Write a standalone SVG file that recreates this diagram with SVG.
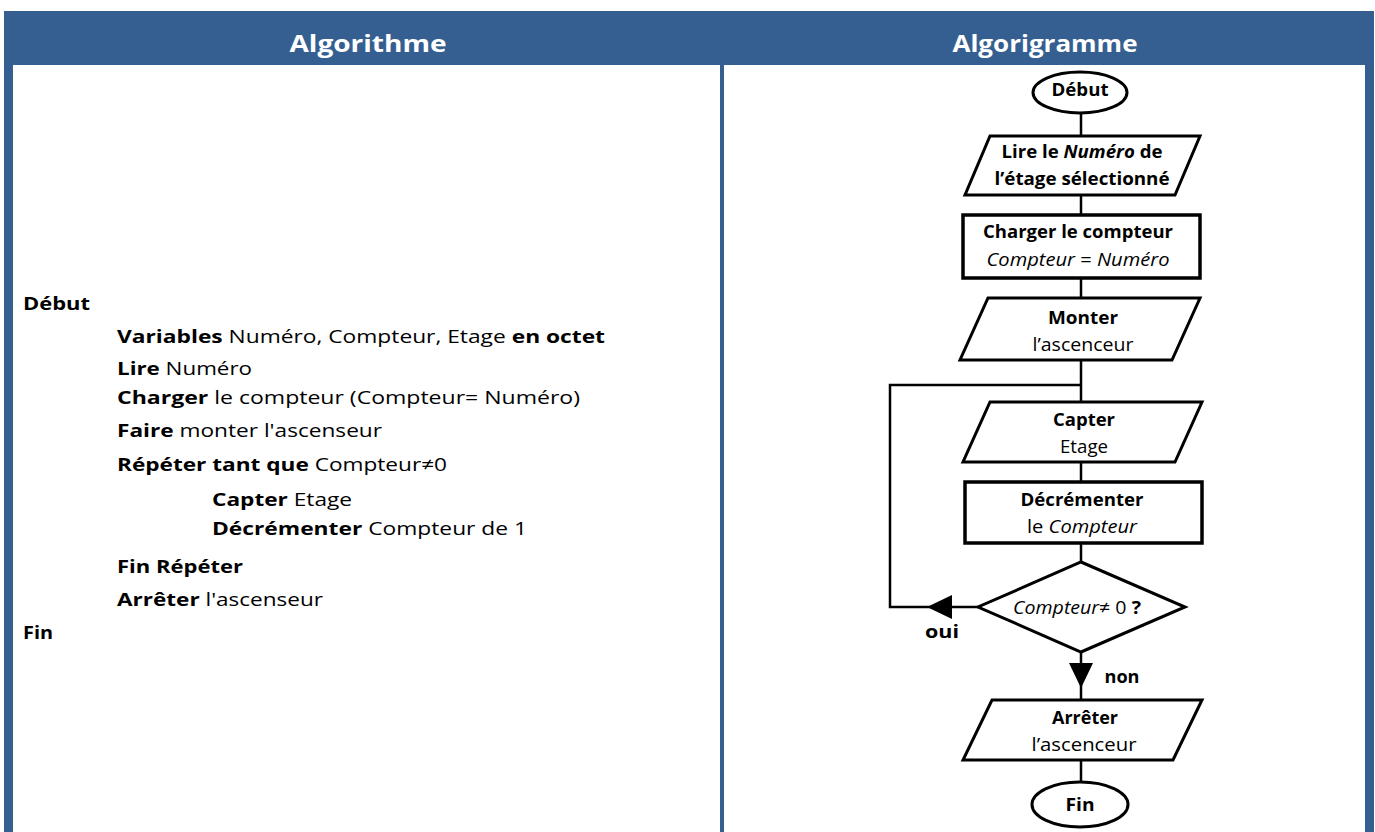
<svg xmlns="http://www.w3.org/2000/svg" width="1375" height="832" viewBox="0 0 1375 832">
<style>
.frame{fill:#365F91}
.hdr{font-family:"Open Sans","Liberation Sans",sans-serif;font-weight:bold;font-size:24px;fill:#ffffff}
.t{font-family:"Open Sans","Liberation Sans",sans-serif;font-size:18px;fill:#000}
.b{font-weight:bold}
.i{font-style:italic}
.shape{fill:#fff;stroke:#000;stroke-width:3}
.box{fill:#fff;stroke:#000;stroke-width:3.5}
.lbl{font-family:"Open Sans","Liberation Sans",sans-serif;font-size:18px;fill:#000;text-anchor:middle}
.conn{fill:none;stroke:#000;stroke-width:2.5}
.head{fill:#000}
</style>
<rect width="1375" height="832" fill="#fff"/>
<g id="frame">
<rect class="frame" x="4" y="11" width="1370" height="54"/>
<rect class="frame" x="4" y="11" width="9" height="821"/>
<rect class="frame" x="720" y="11" width="4" height="821"/>
<rect class="frame" x="1365" y="11" width="9" height="821"/>
<text class="hdr" x="368" y="52" text-anchor="middle" textLength="157" lengthAdjust="spacingAndGlyphs">Algorithme</text>
<text class="hdr" x="1045" y="52" text-anchor="middle" textLength="185" lengthAdjust="spacingAndGlyphs">Algorigramme</text>
</g>
<g id="algorithme" class="t">
<text x="23" y="310" textLength="67" lengthAdjust="spacingAndGlyphs"><tspan class="b">Début</tspan></text>
<text x="117" y="343" textLength="488" lengthAdjust="spacingAndGlyphs"><tspan class="b">Variables</tspan> Numéro, Compteur, Etage <tspan class="b">en octet</tspan></text>
<text x="117" y="375" textLength="135" lengthAdjust="spacingAndGlyphs"><tspan class="b">Lire</tspan> Numéro</text>
<text x="117" y="404" textLength="463" lengthAdjust="spacingAndGlyphs"><tspan class="b">Charger</tspan> le compteur (Compteur= Numéro)</text>
<text x="117" y="437" textLength="265" lengthAdjust="spacingAndGlyphs"><tspan class="b">Faire</tspan> monter l'ascenseur</text>
<text x="117" y="471" textLength="330" lengthAdjust="spacingAndGlyphs"><tspan class="b">Répéter tant que</tspan> Compteur≠0</text>
<text x="212" y="506" textLength="140" lengthAdjust="spacingAndGlyphs"><tspan class="b">Capter</tspan> Etage</text>
<text x="212" y="535" textLength="315" lengthAdjust="spacingAndGlyphs"><tspan class="b">Décrémenter</tspan> Compteur de 1</text>
<text x="117" y="573" textLength="126" lengthAdjust="spacingAndGlyphs"><tspan class="b">Fin Répéter</tspan></text>
<text x="117" y="606" textLength="206" lengthAdjust="spacingAndGlyphs"><tspan class="b">Arrêter</tspan> l'ascenseur</text>
<text x="23" y="639" textLength="30" lengthAdjust="spacingAndGlyphs"><tspan class="b">Fin</tspan></text>
</g>
<g id="connectors">
<path class="conn" d="M1081 113V136M1081 195V215M1081 278V298M1081 360V402M1081 462V482M1081 543V562M1081 652V700M1081 760V782"/>
<path class="conn" d="M978 607H890V385H1081"/>
<polygon class="head" points="927,607 952,595 952,619"/>
<polygon class="head" points="1069,663 1093,663 1081,688"/>
<text class="lbl b" x="942" y="638" textLength="34" lengthAdjust="spacingAndGlyphs">oui</text>
<text class="lbl b" x="1122" y="683" textLength="35" lengthAdjust="spacingAndGlyphs">non</text>
</g>
<g id="n-debut">
<ellipse class="shape" cx="1080" cy="92.5" rx="47" ry="20.5"/>
<text class="lbl b" x="1080" y="96" textLength="57" lengthAdjust="spacingAndGlyphs">Début</text>
</g>
<g id="n-lire">
<polygon class="shape" points="990,136 1200,136 1175,195 965,195"/>
<text class="lbl b" x="1082" y="158" textLength="161" lengthAdjust="spacingAndGlyphs">Lire le <tspan class="i">Numéro</tspan> de</text>
<text class="lbl b" x="1082" y="185" textLength="175" lengthAdjust="spacingAndGlyphs">l’étage sélectionné</text>
</g>
<g id="n-charger">
<rect class="box" x="963" y="215" width="237" height="63"/>
<text class="lbl b" x="1078" y="238" textLength="190" lengthAdjust="spacingAndGlyphs">Charger le compteur</text>
<text class="lbl" x="1078" y="266" textLength="183" lengthAdjust="spacingAndGlyphs"><tspan class="i">Compteur</tspan> = <tspan class="i">Numéro</tspan></text>
</g>
<g id="n-monter">
<polygon class="shape" points="988,298 1200,298 1172,360 960,360"/>
<text class="lbl b" x="1083" y="324" textLength="70" lengthAdjust="spacingAndGlyphs">Monter</text>
<text class="lbl" x="1083" y="351" textLength="101" lengthAdjust="spacingAndGlyphs">l’ascenceur</text>
</g>
<g id="n-capter">
<polygon class="shape" points="990,402 1202,402 1175,462 963,462"/>
<text class="lbl b" x="1084" y="426" textLength="62" lengthAdjust="spacingAndGlyphs">Capter</text>
<text class="lbl" x="1084" y="453" textLength="48" lengthAdjust="spacingAndGlyphs">Etage</text>
</g>
<g id="n-decrementer">
<rect class="box" x="965" y="482" width="237" height="61"/>
<text class="lbl b" x="1082" y="506" textLength="123" lengthAdjust="spacingAndGlyphs">Décrémenter</text>
<text class="lbl" x="1082" y="533" textLength="110" lengthAdjust="spacingAndGlyphs">le <tspan class="i">Compteur</tspan></text>
</g>
<g id="n-test">
<polygon class="shape" points="1081,562 1185,607 1081,652 978,607"/>
<text class="lbl" x="1077" y="614" textLength="128" lengthAdjust="spacingAndGlyphs"><tspan class="i">Compteur</tspan>≠ 0 <tspan class="b">?</tspan></text>
</g>
<g id="n-arreter">
<polygon class="shape" points="992,700 1202,700 1173,760 963,760"/>
<text class="lbl b" x="1085" y="724" textLength="66" lengthAdjust="spacingAndGlyphs">Arrêter</text>
<text class="lbl" x="1084" y="751" textLength="105" lengthAdjust="spacingAndGlyphs">l’ascenceur</text>
</g>
<g id="n-fin">
<ellipse class="shape" cx="1080" cy="804.5" rx="48" ry="22.5"/>
<text class="lbl b" x="1080" y="811" textLength="29" lengthAdjust="spacingAndGlyphs">Fin</text>
</g>
</svg>
